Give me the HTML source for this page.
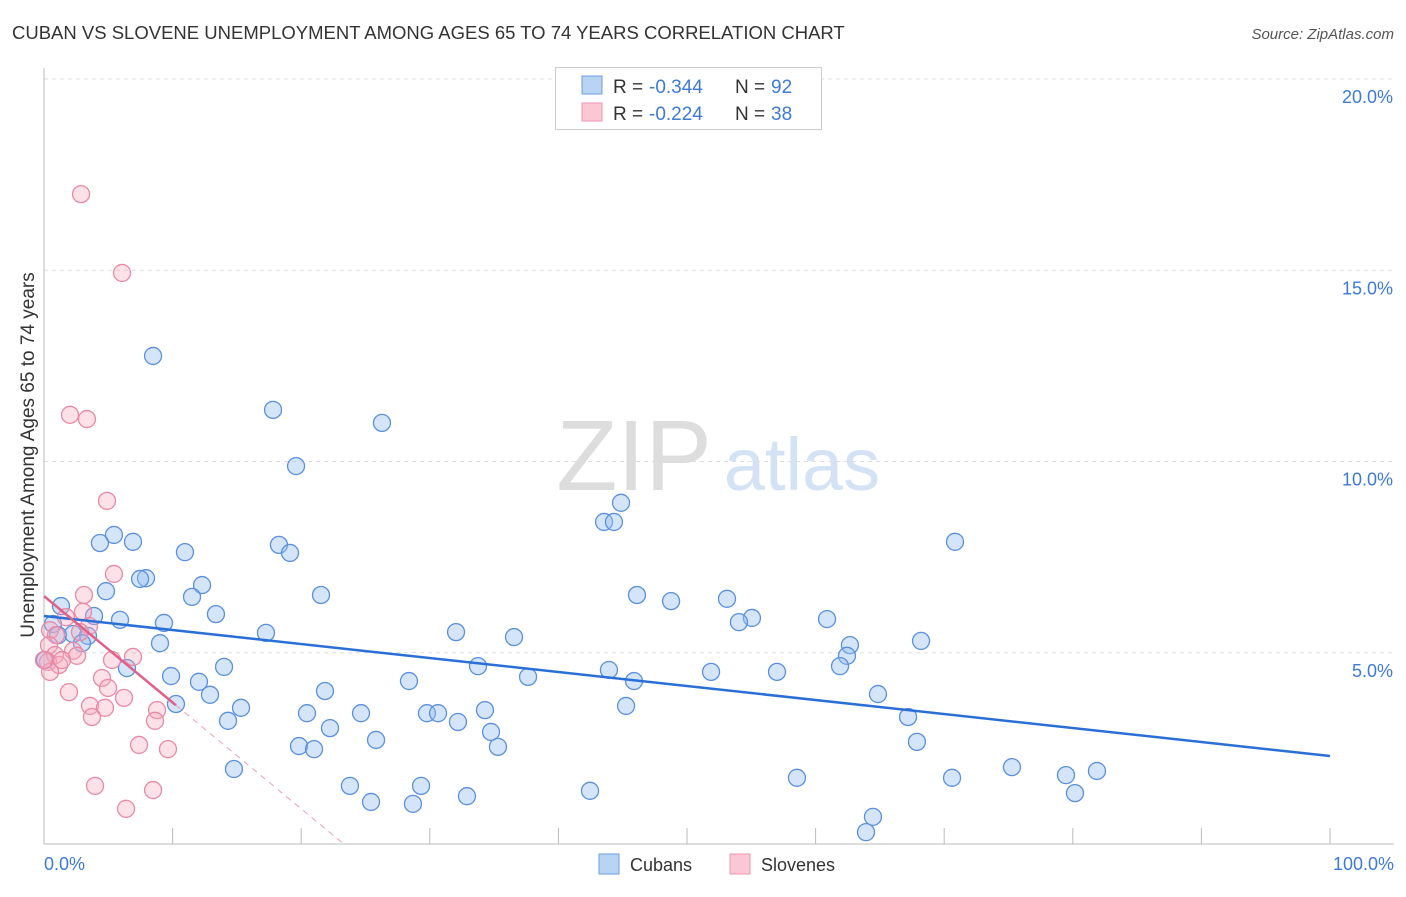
<!DOCTYPE html>
<html><head><meta charset="utf-8"><style>
body{margin:0;background:#fff;font-family:"Liberation Sans",sans-serif;}
svg text{font-family:"Liberation Sans",sans-serif;}
</style></head><body>
<svg id="chart" width="1406" height="892">
<text x="12" y="39" font-size="18.5" fill="#333">CUBAN VS SLOVENE UNEMPLOYMENT AMONG AGES 65 TO 74 YEARS CORRELATION CHART</text>
<text x="1394" y="39" font-size="15" fill="#555" font-style="italic" text-anchor="end">Source: ZipAtlas.com</text>
<g><text x="634" y="490" font-size="100" fill="#ddd" font-family="Liberation Serif,serif" text-anchor="middle">ZIP</text><text x="802" y="490" font-size="74" fill="#d4e2f5" text-anchor="middle">atlas</text></g>
<g id="grid"></g><g id="axes"></g><g id="marks"></g>
<text transform="translate(34,455) rotate(-90)" font-size="19" fill="#333" text-anchor="middle">Unemployment Among Ages 65 to 74 years</text>
<text x="44" y="870" font-size="18" fill="#3d7ad6">0.0%</text>
<text x="1394" y="870" font-size="18" fill="#3d7ad6" text-anchor="end">100.0%</text>
<g>
<rect x="555.5" y="67.5" width="266" height="62" fill="#fff" stroke="#ccc"/>
<rect x="582" y="76" width="20" height="18" fill="#b9d3f5" stroke="#6c9de0"/>
<rect x="582" y="103" width="20" height="18" fill="#fac7d5" stroke="#ec95ae"/>
<text x="613" y="93" font-size="19" fill="#333">R =</text><text x="649" y="93" font-size="19" fill="#3d7ad6">-0.344</text>
<text x="735" y="93" font-size="19" fill="#333">N =</text><text x="771" y="93" font-size="19" fill="#3d7ad6">92</text>
<text x="613" y="120" font-size="19" fill="#333">R =</text><text x="649" y="120" font-size="19" fill="#3d7ad6">-0.224</text>
<text x="735" y="120" font-size="19" fill="#333">N =</text><text x="771" y="120" font-size="19" fill="#3d7ad6">38</text>
</g>
<g>
<rect x="599" y="854" width="20" height="20" fill="#b9d3f5" stroke="#6c9de0"/>
<text x="630" y="871" font-size="18" fill="#333">Cubans</text>
<rect x="730" y="854" width="20" height="20" fill="#fac7d5" stroke="#ec95ae"/>
<text x="761" y="871" font-size="18" fill="#333">Slovenes</text>
</g>
</svg>
<script>
const yTicks=[5,10,15,20];
const yTickLabels=["5.0%","10.0%","15.0%","20.0%"];
const xTicks=[10,20,30,40,50,60,70,80,90,100];
const cubanPx=[[153,356],[273,410],[382,423],[296,466],[621,503],[604,522],[614,522],[955,542],[114,535],[100,543],[133,542],[185,552],[279,545],[290,553],[146,578],[140,579],[202,585],[106,591],[321,595],[637,595],[727,599],[671,601],[192,597],[61,606],[216,614],[94,616],[120,620],[164,623],[752,618],[739,622],[827,619],[53,624],[58,635],[73,634],[88,636],[266,633],[456,632],[514,637],[921,641],[160,643],[82,643],[850,645],[847,656],[224,667],[127,668],[478,666],[609,670],[711,672],[777,672],[840,666],[171,676],[528,677],[634,681],[409,681],[199,682],[325,691],[210,695],[878,694],[176,704],[241,708],[626,706],[485,710],[307,713],[361,713],[427,713],[438,713],[228,721],[458,722],[908,717],[330,728],[491,732],[376,740],[299,746],[314,749],[498,747],[917,742],[234,769],[1012,767],[1097,771],[1066,775],[797,778],[952,778],[350,786],[421,786],[590,791],[1075,793],[467,796],[371,802],[413,804],[873,817],[866,832],[45,660]];
const slovenePx=[[81,194],[122,273],[70,415],[87,419],[107,501],[114,574],[84,595],[66,617],[50,630],[56,635],[89,626],[80,632],[49,645],[55,655],[48,662],[59,665],[73,651],[77,656],[62,660],[112,660],[133,657],[50,672],[102,678],[108,688],[69,692],[124,698],[90,706],[105,708],[92,717],[157,710],[155,721],[139,745],[168,749],[95,786],[153,790],[126,809],[83,612],[44,660]];
const cubanX=cubanPx.map(p=>+((p[0]-44)/12.86).toFixed(2));
const cubanY=cubanPx.map(p=>+((844-p[1])/38.25).toFixed(2));
const sloveneX=slovenePx.map(p=>+((p[0]-44)/12.86).toFixed(2));
const sloveneY=slovenePx.map(p=>+((844-p[1])/38.25).toFixed(2));
const cubanTrend=[5.96,2.3];
const sloveneTrend=[6.48,-0.278];
const X=v=>44+v*12.86, Y=v=>844-v*38.25;
const NS="http://www.w3.org/2000/svg";
function mk(t,a,parent){const e=document.createElementNS(NS,t);for(const k in a)e.setAttribute(k,a[k]);parent.appendChild(e);return e;}
const grid=document.getElementById('grid'),axes=document.getElementById('axes'),marks=document.getElementById('marks');
yTicks.forEach((t,i)=>{
 const l=mk('line',{x1:44,x2:1394,y1:Y(t),y2:Y(t),stroke:'#ddd','stroke-dasharray':'4,4'},grid);
 
 
 const tx=mk('text',{x:1393,y:Y(t)+24,'font-size':18,fill:'#3d7ad6','text-anchor':'end'},grid);
 tx.textContent=yTickLabels[i];
 
 
});
const ya=mk('line',{x1:44,x2:44,y1:68,y2:844,stroke:'#bbb'},axes);


const xa=mk('line',{x1:44,x2:1394,y1:844,y2:844,stroke:'#bbb'},axes);


xTicks.forEach(t=>{const l=mk('line',{x1:X(t),x2:X(t),y1:828,y2:844,stroke:'#bbb'},axes);
 
 });
cubanX.forEach((x,i)=>{const c=mk('circle',{cx:X(x),cy:Y(cubanY[i]),r:8.5,fill:'rgba(150,190,240,0.4)',stroke:'#5a90dc','stroke-width':1.3},marks);
 
 });
sloveneX.forEach((x,i)=>{const c=mk('circle',{cx:X(x),cy:Y(sloveneY[i]),r:8.5,fill:'rgba(245,170,190,0.35)',stroke:'#e88aa6','stroke-width':1.3},marks);
 
 });
const bt=mk('line',{x1:X(0),y1:Y(cubanTrend[0]),x2:X(100),y2:Y(cubanTrend[1]),stroke:'#2a6fd6','stroke-width':2.5},marks);


const sEnd=10.26, sZero=-sloveneTrend[0]/sloveneTrend[1];
const st=mk('line',{x1:X(0),y1:Y(sloveneTrend[0]),x2:X(sEnd),y2:Y(sloveneTrend[0]+sloveneTrend[1]*sEnd),stroke:'#e0608a','stroke-width':2.5},marks);


const sd=mk('line',{x1:X(sEnd),y1:Y(sloveneTrend[0]+sloveneTrend[1]*sEnd),x2:X(sZero),y2:Y(0),stroke:'#eaa0b6','stroke-width':1,'stroke-dasharray':'6,5'},marks);


</script>
</body></html>
